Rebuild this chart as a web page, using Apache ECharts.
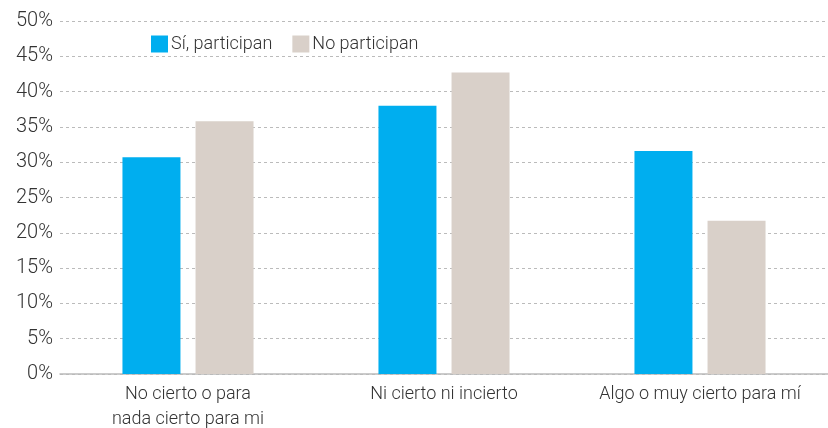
<!DOCTYPE html>
<html>
<head>
<meta charset="utf-8">
<script src="https://cdn.jsdelivr.net/npm/echarts@6/dist/echarts.min.js"></script>
<style>
  html, body { margin: 0; padding: 0; background: #fff; }
  #main { width: 828px; height: 428px; }
</style>
</head>
<body>
<div id="main"></div>
<script>
var categories = ['No cierto o para\nnada cierto para mi', 'Ni cierto ni incierto', 'Algo o muy cierto para mí'];
var siParticipan = [30.7, 38.0, 31.6];
var noParticipan = [35.8, 42.7, 21.7];
var yTicks = [0, 50, 5];

var myChart = echarts.init(document.getElementById('main'));

var option = {
    animation: false,
    textStyle: { fontFamily: 'Roboto', fontWeight: 300 },
    legend: {
        left: 146,
        top: 30,
        itemWidth: 17,
        itemHeight: 17,
        itemGap: 20,
        icon: 'rect',
        textStyle: { fontSize: 18, color: '#333', fontWeight: 300, padding: [0, 0, 0, -2] },
        data: ['Sí, participan', 'No participan']
    },
    grid: { left: 60, right: 0, top: 21, bottom: 54, outerBoundsMode: 'none' },
    xAxis: {
        type: 'category',
        data: categories,
        axisTick: { show: false },
        axisLine: { lineStyle: { color: '#bbb', width: 1.5 } },
        axisLabel: { interval: 0, fontSize: 18, color: '#333', fontWeight: 300, margin: 8, lineHeight: 25 }
    },
    yAxis: {
        type: 'value',
        min: yTicks[0],
        max: yTicks[1],
        interval: yTicks[2],
        axisLabel: { formatter: '{value}%', fontSize: 20, color: '#333', fontWeight: 300, margin: 7 },
        splitLine: { lineStyle: { color: '#bbb', type: [3, 3] } }
    },
    series: [
        {
            name: 'Sí, participan',
            type: 'bar',
            data: siParticipan,
            barWidth: 58,
            barGap: '26%',
            itemStyle: { color: '#00AEEF' }
        },
        {
            name: 'No participan',
            type: 'bar',
            data: noParticipan,
            barWidth: 58,
            itemStyle: { color: '#D9D0C9' }
        }
    ]
};
myChart.setOption(option);
</script>
</body>
</html>
